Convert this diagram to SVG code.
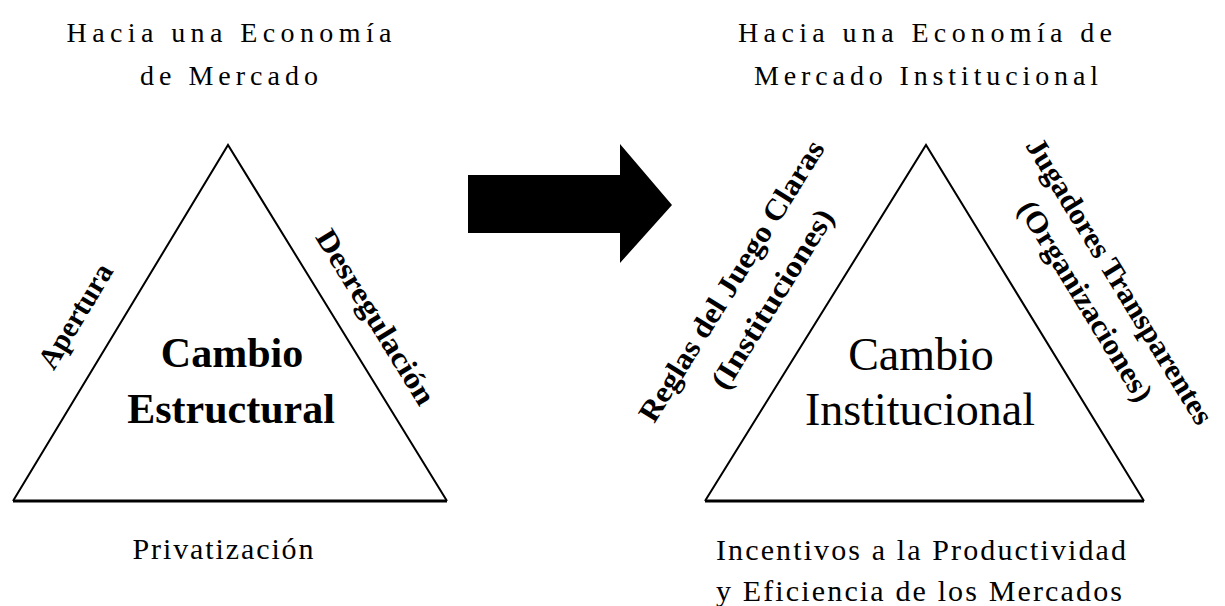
<svg xmlns="http://www.w3.org/2000/svg" width="1225" height="606" viewBox="0 0 1225 606">
<style>
.bg{fill:#fff}
.tri{fill:none;stroke:#000;stroke-width:2;stroke-linejoin:miter}
.base{stroke:#000;stroke-width:3}
.cap{font-family:"Liberation Serif","Times New Roman",serif;font-size:28px;fill:#000;text-anchor:middle}
.foot{font-family:"Liberation Serif","Times New Roman",serif;font-size:30px;fill:#000;text-anchor:middle}
.lbl{font-family:"Liberation Serif","Times New Roman",serif;font-size:30px;font-weight:bold;fill:#000;text-anchor:middle}
.big{font-family:"Liberation Serif","Times New Roman",serif;fill:#000;text-anchor:middle}
</style>
<rect class="bg" x="0" y="0" width="1225" height="606"/>

<g id="node-mercado">
  <text class="cap" x="229" y="42" textLength="325" lengthAdjust="spacing">Hacia una Economía</text>
  <text class="cap" x="229" y="85" textLength="178" lengthAdjust="spacing">de Mercado</text>
  <polyline class="tri" points="13,501 228,145 447,501"/>
  <line class="base" x1="13" y1="501" x2="447" y2="501"/>
  <text class="big" x="232" y="367" font-size="42" font-weight="bold">Cambio</text>
  <text class="big" x="231" y="423" font-size="42" font-weight="bold">Estructural</text>
  <g transform="translate(77,317) rotate(-58.9)">
    <text class="lbl" x="0" y="8" textLength="117" lengthAdjust="spacingAndGlyphs">Apertura</text>
  </g>
  <g transform="translate(374,318) rotate(58.4)">
    <text class="lbl" x="0" y="8" textLength="200" lengthAdjust="spacingAndGlyphs">Desregulación</text>
  </g>
  <text class="foot" x="223" y="559" textLength="181" lengthAdjust="spacing">Privatización</text>
</g>

<g id="node-institucional">
  <text class="cap" x="925" y="42" textLength="374" lengthAdjust="spacing">Hacia una Economía de</text>
  <text class="cap" x="926" y="85" textLength="344" lengthAdjust="spacing">Mercado Institucional</text>
  <polyline class="tri" points="705,501 926,145 1144,501"/>
  <line class="base" x1="705" y1="501" x2="1144" y2="501"/>
  <text class="big" x="921" y="370" font-size="46">Cambio</text>
  <text class="big" x="920" y="425" font-size="46">Institucional</text>
  <g transform="translate(733,282) rotate(-58.2)">
    <text class="lbl" x="0" y="8" textLength="325" lengthAdjust="spacingAndGlyphs">Reglas del Juego Claras</text>
  </g>
  <g transform="translate(774,300) rotate(-58.2)">
    <text class="lbl" x="0" y="8" textLength="206" lengthAdjust="spacingAndGlyphs">(Instituciones)</text>
  </g>
  <g transform="translate(1118,282) rotate(58.5)">
    <text class="lbl" x="0" y="8" textLength="330" lengthAdjust="spacingAndGlyphs">Jugadores Transparentes</text>
  </g>
  <g transform="translate(1084,302) rotate(58.5)">
    <text class="lbl" x="0" y="8" textLength="230" lengthAdjust="spacingAndGlyphs">(Organizaciones)</text>
  </g>
  <text class="foot" x="921" y="560" textLength="410" lengthAdjust="spacing">Incentivos a la Productividad</text>
  <text class="foot" x="919" y="601" textLength="406" lengthAdjust="spacing">y Eficiencia de los Mercados</text>
</g>

<g id="connectors">
  <polygon points="468,175 620,175 620,144 672,205 620,263 620,233 468,233" fill="#000"/>
</g>
</svg>
